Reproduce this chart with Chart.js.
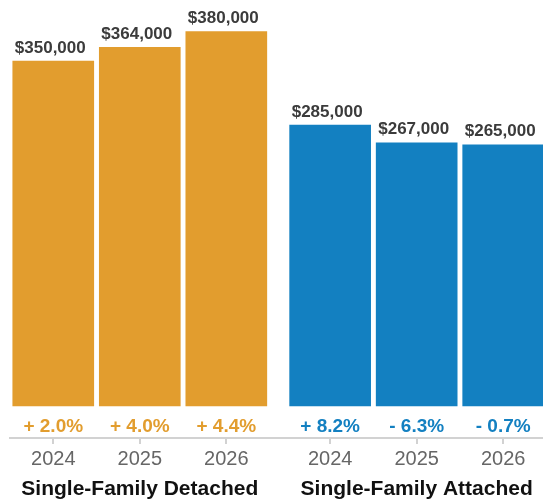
<!DOCTYPE html>
<html>
<head>
<meta charset="utf-8">
<script src="https://cdn.jsdelivr.net/npm/chart.js@4.4.1/dist/chart.umd.min.js"></script>
<style>
  html, body { margin: 0; padding: 0; background: #ffffff; }
  #wrap { width: 543px; height: 503px; position: relative; }
</style>
</head>
<body>
<div id="wrap"><canvas id="c"></canvas></div>
<script>
// ---- data ----
const groups = ["Single-Family Detached", "Single-Family Attached"];
const years = ["2024", "2025", "2026"];
const detachedValues = [350000, 364000, 380000];
const attachedValues = [285000, 267000, 265000];
const detachedChanges = ["+ 2.0%", "+ 4.0%", "+ 4.4%"];
const attachedChanges = ["+ 8.2%", "- 6.3%", "- 0.7%"];

// ---- style ----
const ORANGE = "#E29D2E";
const BLUE = "#1380C1";
const FONT = "'Liberation Sans', Arial, Helvetica, sans-serif";
const GROUP_STEP = 3.2; // category units between group starts (adds a gap)

function pts(vals, g) {
  return vals.map((v, i) => ({ x: g * GROUP_STEP + i, y: v }));
}
const tickPositions = [];
groups.forEach((_, g) => years.forEach((_, i) => tickPositions.push(g * GROUP_STEP + i)));
const tickLabels = groups.flatMap(() => years);

const labelPlugin = {
  id: "labels",
  afterDatasetsDraw(chart) {
    const ctx = chart.ctx;
    const ys = chart.scales.y;
    const xs = chart.scales.x;
    const changes = [detachedChanges, attachedChanges];
    const colors = [ORANGE, BLUE];
    ctx.save();
    chart.data.datasets.forEach((ds, di) => {
      const meta = chart.getDatasetMeta(di);
      meta.data.forEach((bar, i) => {
        ctx.font = "bold 17px " + FONT;
        ctx.fillStyle = "#3b3b3b";
        ctx.textAlign = "center";
        ctx.textBaseline = "alphabetic";
        const v = ds.data[i].y;
        ctx.fillText("$" + v.toLocaleString("en-US"), bar.x - 3, bar.y - 8.5);
        ctx.font = "bold 19px " + FONT;
        ctx.fillStyle = colors[di];
        ctx.textBaseline = "middle";
        ctx.fillText(changes[di][i], bar.x, ys.getPixelForValue(0) + 20.5);
      });
    });
    ctx.font = "bold 21px " + FONT;
    ctx.fillStyle = "#111111";
    ctx.textAlign = "center";
    ctx.textBaseline = "alphabetic";
    groups.forEach((g, gi) => {
      const x0 = xs.getPixelForValue(gi * GROUP_STEP);
      const x1 = xs.getPixelForValue(gi * GROUP_STEP + years.length - 1);
      ctx.fillText(g, (x0 + x1) / 2, xs.bottom - 8);
    });
    ctx.restore();
  }
};

new Chart(document.getElementById("c"), {
  type: "bar",
  data: {
    datasets: [
      { label: groups[0], data: pts(detachedValues, 0), backgroundColor: ORANGE, barThickness: 81, grouped: false },
      { label: groups[1], data: pts(attachedValues, 1), backgroundColor: BLUE, barThickness: 81, grouped: false }
    ]
  },
  options: {
    responsive: true,
    maintainAspectRatio: false,
    animation: false,
    layout: { padding: { left: 10, right: 0, top: 0, bottom: 0 } },
    plugins: { legend: { display: false }, tooltip: { enabled: false } },
    scales: {
      x: {
        type: "linear",
        offset: false,
        bounds: "ticks",
        min: -0.5,
        max: (groups.length - 1) * GROUP_STEP + years.length - 1 + 0.46,
        afterBuildTicks(scale) { scale.ticks = tickPositions.map(v => ({ value: v })); },
        afterFit(scale) { scale.height = 65; },
        grid: { offset: false, drawOnChartArea: false, drawTicks: true, tickLength: 6, color: "#d2d2d2", lineWidth: 2 },
        border: { display: true, color: "#d2d2d2", width: 2 },
        ticks: {
          autoSkip: false,
          maxRotation: 0,
          padding: 3,
          color: "#666666",
          font: { family: FONT, size: 20 },
          callback: (value, index) => tickLabels[index]
        }
      },
      y: {
        display: false,
        min: -32500,
        max: 412000
      }
    }
  },
  plugins: [labelPlugin]
});
</script>
</body>
</html>
